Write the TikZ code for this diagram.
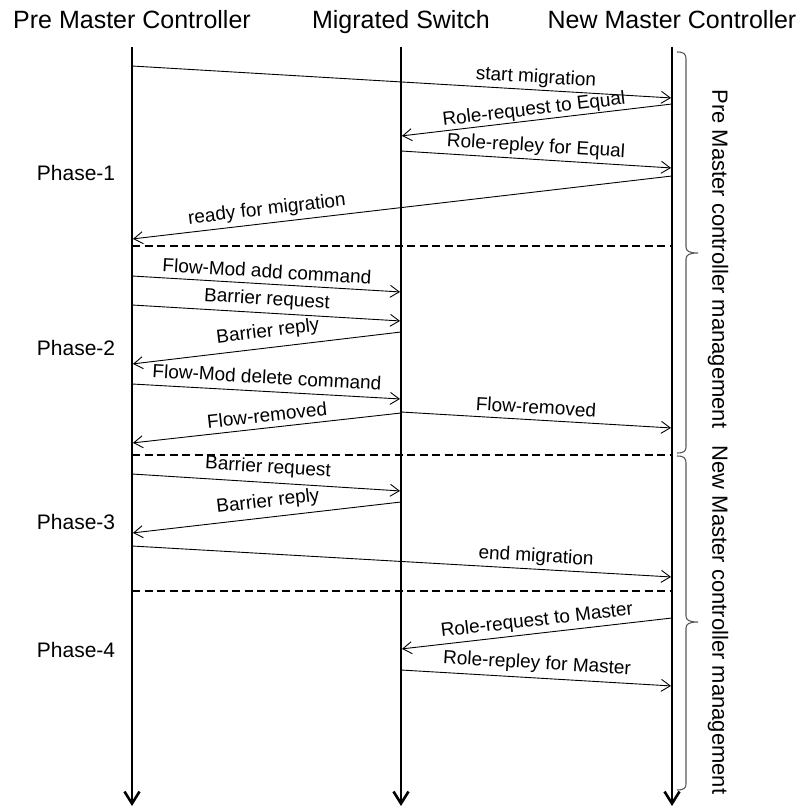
\documentclass[tikz,border=0pt]{standalone}
\usepackage{fontspec}
\setmainfont{Liberation Sans}
\usetikzlibrary{arrows.meta}
\begin{document}
\begin{tikzpicture}[x=1pt,y=-1pt,
  title/.style={font=\fontsize{25}{30}\selectfont, inner sep=0pt, anchor=base},
  phase/.style={font=\fontsize{21}{25}\selectfont, inner sep=0pt},
  lbl/.style={font=\fontsize{19}{23}\selectfont, inner sep=0pt},
  side/.style={font=\fontsize{22}{26}\selectfont, inner sep=0pt, rotate=-90},
  life/.style={line width=2.6pt, -{Straight Barb[length=12pt,width=15pt]}},
  msg/.style={line width=0.9pt, shorten >=1pt, shorten <=1pt, -{Straight Barb[length=9pt,width=12pt]}},
  sep/.style={line width=2.2pt, dash pattern=on 8pt off 4.5pt},
  grp/.style={draw=black!65, line width=1.1pt}
]
\useasboundingbox (0,0) rectangle (804,810);

% participants
\node[title] (tP) at (132,29) {Pre Master Controller};
\node[title] (tS) at (401,29) {Migrated Switch};
\node[title] (tN) at (672,29) {New Master Controller};

% lifelines
\coordinate (P) at (132,47);
\coordinate (S) at (401,47);
\coordinate (N) at (672,47);
\coordinate (Pe) at (132,806);
\coordinate (Se) at (401,806);
\coordinate (Ne) at (672,806);
\draw[life] (P) -- (Pe);
\draw[life] (S) -- (Se);
\draw[life] (N) -- (Ne);

% phase names
\node[phase] (ph1) at (76,173) {Phase-1};
\node[phase] (ph2) at (76,348) {Phase-2};
\node[phase] (ph3) at (76,522) {Phase-3};
\node[phase] (ph4) at (76,650) {Phase-4};

% phase 1
\draw[msg] (P |- 0,66) -- (N |- 0,98);
\node[lbl, rotate=-3.4] (m1) at (536,78) {start migration};
\draw[msg] (N |- 0,104) -- (S |- 0,136);
\node[lbl, rotate=6.8] (m2) at (534,110) {Role-request to Equal};
\draw[msg] (S |- 0,151) -- (N |- 0,168);
\node[lbl, rotate=-3.6] (m3) at (536,147) {Role-repley for Equal};
\draw[msg] (N |- 0,176) -- (P |- 0,239);
\node[lbl, rotate=6.7] (m4) at (267,210) {ready for migration};
\draw[sep] (P |- 0,246) -- (N |- 0,246);

% phase 2
\draw[msg] (P |- 0,276) -- (S |- 0,292);
\node[lbl, rotate=-3.4] (m5) at (267,271) {Flow-Mod add command};
\draw[msg] (P |- 0,305) -- (S |- 0,321);
\node[lbl, rotate=-3.4] (m6) at (267,300) {Barrier request};
\draw[msg] (S |- 0,332) -- (P |- 0,364);
\node[lbl, rotate=6.8] (m7) at (268,332) {Barrier reply};
\draw[msg] (P |- 0,384) -- (S |- 0,399);
\node[lbl, rotate=-3.2] (m8) at (267,377) {Flow-Mod delete command};
\draw[msg] (S |- 0,413) -- (P |- 0,443);
\node[lbl, rotate=6.3] (m9) at (267,415) {Flow-removed};
\draw[msg] (S |- 0,412) -- (N |- 0,428);
\node[lbl, rotate=-3.4] (m10) at (536,407) {Flow-removed};
\draw[sep] (P |- 0,455) -- (N |- 0,455);

% phase 3
\draw[msg] (P |- 0,474) -- (S |- 0,491);
\node[lbl, rotate=-3.6] (m11) at (268,468) {Barrier request};
\draw[msg] (S |- 0,502) -- (P |- 0,533);
\node[lbl, rotate=6.5] (m12) at (268,502) {Barrier reply};
\draw[msg] (P |- 0,546) -- (N |- 0,577);
\node[lbl, rotate=-3.3] (m13) at (536,557) {end migration};
\draw[sep] (P |- 0,591) -- (N |- 0,591);

% phase 4
\draw[msg] (N |- 0,618) -- (S |- 0,649);
\node[lbl, rotate=6.6] (m14) at (537,621) {Role-request to Master};
\draw[msg] (S |- 0,670) -- (N |- 0,686);
\node[lbl, rotate=-3.4] (m15) at (537,664) {Role-repley for Master};

% management spans (braces with a short tip)
\coordinate (g1a) at (677,52);
\coordinate (g1t) at (698,253);
\coordinate (g1b) at (677,453);
\coordinate (g2a) at (677,456);
\coordinate (g2t) at (698,622);
\coordinate (g2b) at (677,790);
\draw[grp] (g1a) .. controls (684,52) and (686,54) .. (686,59)
  -- (686,247) .. controls (686,251) and (689,253) .. (g1t)
  .. controls (689,253) and (686,255) .. (686,259)
  -- (686,447) .. controls (686,451) and (684,453) .. (g1b);
\draw[grp] (g2a) .. controls (684,456) and (686,458) .. (686,463)
  -- (686,616) .. controls (686,620) and (689,622) .. (g2t)
  .. controls (689,622) and (686,624) .. (686,628)
  -- (686,784) .. controls (686,788) and (684,790) .. (g2b);
\node[side] (g1) at (718,259) {Pre Master controller management};
\node[side] (g2) at (718,620) {New Master controller management};
\end{tikzpicture}
\end{document}
